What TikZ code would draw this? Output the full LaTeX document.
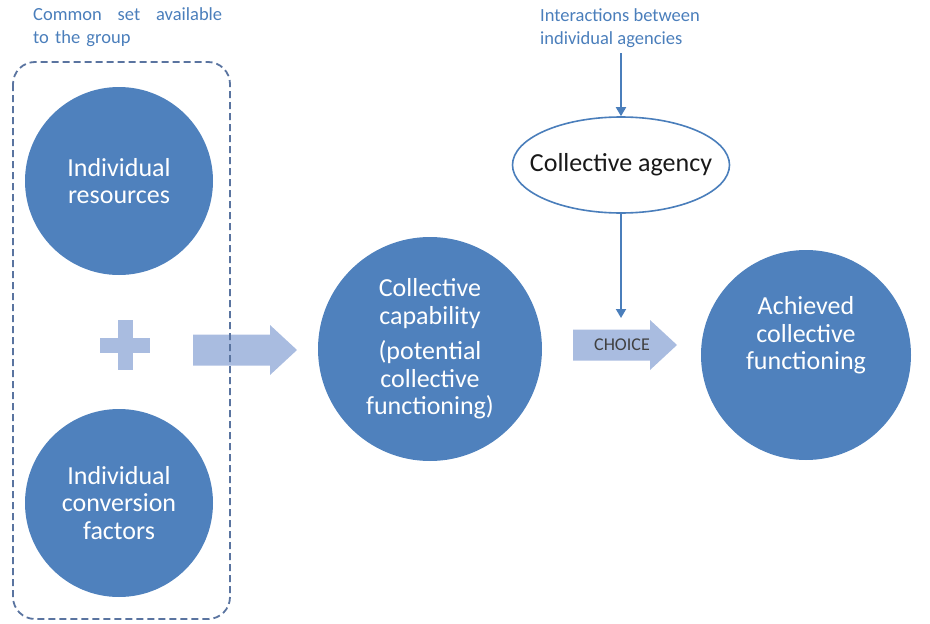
\documentclass[tikz,border=0pt]{standalone}
\usepackage{fontspec}
\setmainfont{Carlito}
\usetikzlibrary{arrows.meta,shapes.geometric}
\definecolor{discblue}{HTML}{4F81BD}
\definecolor{paleblue}{HTML}{A9BCE0}
\definecolor{lineblue}{HTML}{4A7EBB}
\definecolor{boxblue}{HTML}{5A74A0}

\begin{document}
\begin{tikzpicture}[x=1pt,y=-1pt,
    disc/.style={circle, fill=discblue, text=white, align=center, inner sep=0, font=\fontsize{26}{27.5}\selectfont},
    note/.style={text=lineblue, font=\fontsize{18.5}{23}\selectfont, align=left, inner sep=0, anchor=north west},
    link/.style={draw=lineblue, line width=1.8pt, -{Triangle[length=9pt,width=10pt]}},
    blockarrow/.style={fill=paleblue}]
    \useasboundingbox (0,0) rectangle (930,624);
    \newcommand{\shaft}{15.5}
    \newcommand{\head}{25}

    % Draw block arrows and plus
    \fill[blockarrow] (100,345-7.5) rectangle (150,345+7.5);
    \fill[blockarrow] (125-7.5,320) rectangle (125+7.5,370);
    \fill[blockarrow] (193,350-\shaft) -- (270,350-\shaft) -- (270,350-\head) -- (297,350)
        -- (270,350+\head) -- (270,350+\shaft) -- (193,350+\shaft) -- cycle;
    \fill[blockarrow] (573,345-\shaft) -- (650,345-\shaft) -- (650,345-\head) -- (677,345)
        -- (650,345+\head) -- (650,345+\shaft) -- (573,345+\shaft) -- cycle;
    \node[font=\fontsize{18}{20}\selectfont, text=black!75, inner sep=0] (choice) at (622,345) {CHOICE};

    % Draw group box
    \draw[boxblue, line width=1.8pt, dash pattern=on 7pt off 4pt, rounded corners=22pt] (13,62) rectangle (230,619);
    \node[note, text width=189pt] (common) at (33,7) {Common\hfill set\hfill available\\to the group};

    % Draw discs
    \node[disc, minimum size=188] (res) at (119,181) {Individual\\resources};
    \node[disc, minimum size=188] (conv) at (119,503) {Individual\\conversion\\factors};
    \node[disc, minimum size=224] (cap) at (430,349) {Collective\\capability\\[8pt](potential\\collective\\functioning)};
    \node[disc, minimum size=210, text depth=44pt] (ach) at (806,355) {Achieved\\collective\\functioning};

    % Draw agency
    \node[note] (inter) at (540,8) {Interactions between\\individual agencies};
    \node[ellipse, draw=lineblue, line width=1.6pt, fill=white, inner sep=0, minimum width=217, minimum height=96,
        text=black!90, font=\fontsize{26}{27.5}\selectfont] (agency) at (621,165) {\makebox[0pt]{Collective agency}};
    \coordinate (choicetop) at (621,318);
    \draw[link] (agency.north |- inter.south) ++(0,6) -- (agency.north);
    \draw[link] (agency.south) -- (choicetop);
\end{tikzpicture}
\end{document}
